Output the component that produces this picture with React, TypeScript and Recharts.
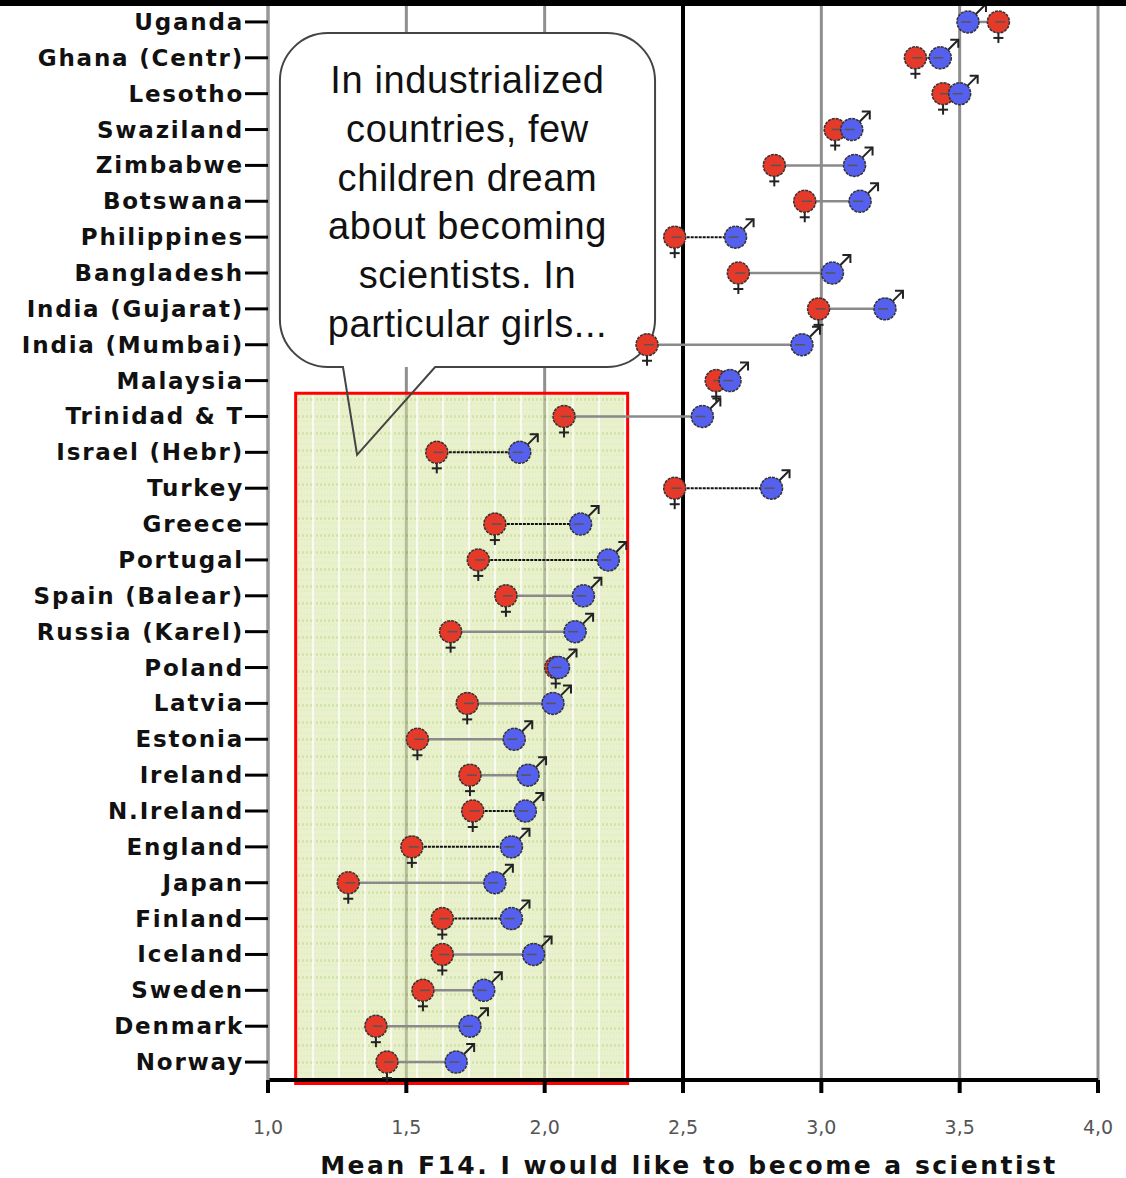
import {
  CartesianGrid,
  ReferenceArea,
  ReferenceLine,
  Scatter,
  ScatterChart,
  XAxis,
  YAxis,
} from 'recharts';

const countries = [
  'Uganda', 'Ghana (Centr)', 'Lesotho', 'Swaziland', 'Zimbabwe', 'Botswana',
  'Philippines', 'Bangladesh', 'India (Gujarat)', 'India (Mumbai)', 'Malaysia',
  'Trinidad & T', 'Israel (Hebr)', 'Turkey', 'Greece', 'Portugal',
  'Spain (Balear)', 'Russia (Karel)', 'Poland', 'Latvia', 'Estonia', 'Ireland',
  'N.Ireland', 'England', 'Japan', 'Finland', 'Iceland', 'Sweden', 'Denmark',
  'Norway',
];

// mean score, girls
const female = [
  3.64, 3.34, 3.44, 3.05, 2.83, 2.94, 2.47, 2.70, 2.99, 2.37, 2.62, 2.07, 1.61,
  2.47, 1.82, 1.76, 1.86, 1.66, 2.04, 1.72, 1.54, 1.73, 1.74, 1.52, 1.29, 1.63,
  1.63, 1.56, 1.39, 1.43,
];

// mean score, boys
const male = [
  3.53, 3.43, 3.50, 3.11, 3.12, 3.14, 2.69, 3.04, 3.23, 2.93, 2.67, 2.57, 1.91,
  2.82, 2.13, 2.23, 2.14, 2.11, 2.05, 2.03, 1.89, 1.94, 1.93, 1.88, 1.82, 1.88,
  1.96, 1.78, 1.73, 1.68,
];

// gap drawn as dark dotted line
const significant = [
  false, true, true, true, false, false, true, false, false, false, false, false,
  true, true, true, true, false, false, false, false, false, false, true, true,
  false, true, false, false, false, false,
];

const xTicks = [1, 1.5, 2, 2.5, 3, 3.5, 4];

const calloutLines = [
  'In industrialized',
  'countries, few',
  'children dream',
  'about becoming',
  'scientists. In',
  'particular girls...',
];

// callout box + tail tip, in data units
const bubbleX: [number, number] = [1.043, 2.399];
const bubbleY: [number, number] = [0.31, 9.62];
const tail = { left: 1.271, right: 1.604, tipX: 1.322, tipY: 12.07 };

const highlightX: [number, number] = [1.1, 2.3];
const highlightY: [number, number] = [10.35, 29.6];

const femaleData = countries.map((c, i) => ({ country: c, y: i, x: female[i] }));
const maleData = countries.map((c, i) => ({ country: c, y: i, x: male[i] }));

const RED = '#e5392a';
const BLUE = '#5560ef';

function FemaleDot(props: any) {
  const { cx, cy } = props;
  return (
    <g>
      <line x1={cx} y1={cy + 10} x2={cx} y2={cy + 21} stroke="#222" strokeWidth={2} />
      <line x1={cx - 5} y1={cy + 16} x2={cx + 5} y2={cy + 16} stroke="#222" strokeWidth={2} />
      <circle cx={cx} cy={cy} r={11} fill={RED} stroke="#333" strokeWidth={1.5} strokeDasharray="3 1" />
      <line x1={cx - 3} y1={cy} x2={cx + 7} y2={cy} stroke="#555" strokeWidth={1.5} />
    </g>
  );
}

function MaleDot(props: any) {
  const { cx, cy } = props;
  return (
    <g>
      <line x1={cx + 7} y1={cy - 7} x2={cx + 18} y2={cy - 18} stroke="#222" strokeWidth={2} />
      <polyline
        points={`${cx + 10},${cy - 18} ${cx + 18},${cy - 18} ${cx + 18},${cy - 10}`}
        fill="none"
        stroke="#222"
        strokeWidth={2}
      />
      <circle cx={cx} cy={cy} r={11} fill={BLUE} stroke="#333" strokeWidth={1.5} strokeDasharray="3 1" />
      <line x1={cx - 7} y1={cy} x2={cx + 3} y2={cy} stroke="#555" strokeWidth={1.5} />
    </g>
  );
}

function CountryTick(props: any) {
  const { x, y, payload } = props;
  return (
    <text
      x={x + 1}
      y={y}
      textAnchor="end"
      dominantBaseline="central"
      fontFamily="DejaVu Sans"
      fontWeight="bold"
      fontSize={23}
      letterSpacing={1.8}
      fill="#111"
    >
      {countries[payload.value]}
    </text>
  );
}

function AxisTitle(props: any) {
  const { viewBox } = props;
  if (!viewBox) return null;
  const { x, y, width, height } = viewBox;
  return (
    <text
      x={x + width / 2 + 6}
      y={y + height - 13}
      textAnchor="middle"
      dominantBaseline="central"
      fontFamily="DejaVu Sans"
      fontWeight="bold"
      fontSize={25}
      letterSpacing={2.5}
      fill="#111"
    >
      Mean F14. I would like to become a scientist
    </text>
  );
}

function Bubble(props: any) {
  const { x, y, width, height } = props;
  const sx = width / (bubbleX[1] - bubbleX[0]);
  const sy = height / (bubbleY[1] - bubbleY[0]);
  const r = 48;
  const l = x;
  const t = y;
  const rt = x + width;
  const b = y + height;
  const bl = x + (tail.left - bubbleX[0]) * sx;
  const br = x + (tail.right - bubbleX[0]) * sx;
  const tx = x + (tail.tipX - bubbleX[0]) * sx;
  const ty = y + (tail.tipY - bubbleY[0]) * sy;
  const d = [
    `M ${bl} ${b}`,
    `L ${l + r} ${b}`,
    `A ${r} ${r} 0 0 1 ${l} ${b - r}`,
    `L ${l} ${t + r}`,
    `A ${r} ${r} 0 0 1 ${l + r} ${t}`,
    `L ${rt - r} ${t}`,
    `A ${r} ${r} 0 0 1 ${rt} ${t + r}`,
    `L ${rt} ${b - r}`,
    `A ${r} ${r} 0 0 1 ${rt - r} ${b}`,
    `L ${br} ${b}`,
    `L ${tx} ${ty}`,
    'Z',
  ].join(' ');
  return (
    <g>
      <rect x={l} y={t} width={width} height={height} rx={r} fill="#fff" />
      <path d={d} fill="none" stroke="#444" strokeWidth={2} />
      {calloutLines.map((line, i) => (
        <text
          key={line}
          x={x + width / 2}
          y={t + 60 + i * 48.8}
          textAnchor="middle"
          fontFamily="Liberation Sans"
          fontSize={38}
          letterSpacing={0.6}
          fill="#111"
        >
          {line}
        </text>
      ))}
    </g>
  );
}

export default function App() {
  return (
    <div style={{ position: 'absolute', left: 0, top: 0, width: 1126, height: 1178, background: '#fff' }}>
      <ScatterChart width={1126} height={1178} margin={{ top: 4, right: 28, bottom: 0, left: 0 }}>
        <defs>
          <pattern id="greenTex" width="26" height="17" patternUnits="userSpaceOnUse">
            <rect width="26" height="17" fill="#d5e4a2" />
            <path d="M0 8.5 H26" stroke="#a9cc5e" strokeWidth="2.5" strokeDasharray="2 2" />
            <path d="M0 2 H26 M0 13 H26" stroke="#bfd888" strokeWidth="1.5" strokeDasharray="1 2" />
            <path d="M1 0 V17" stroke="#ffffff" strokeWidth="1.5" />
          </pattern>
        </defs>
        <CartesianGrid horizontal={false} stroke="#8f8f8f" strokeWidth={3} />
        <XAxis
          type="number"
          dataKey="x"
          domain={[1, 4]}
          ticks={xTicks}
          allowDecimals
          height={98}
          tickSize={13}
          tickMargin={28}
          tickFormatter={(v: number) => v.toFixed(1).replace('.', ',')}
          tick={{ fill: '#555', fontSize: 19, fontFamily: 'DejaVu Sans' }}
          axisLine={{ stroke: '#000', strokeWidth: 4 }}
          tickLine={{ stroke: '#000', strokeWidth: 4 }}
          label={<AxisTitle />}
        />
        <YAxis
          type="number"
          dataKey="y"
          domain={[-0.5, 29.5]}
          reversed
          ticks={countries.map((_, i) => i)}
          interval={0}
          width={268}
          tickSize={23}
          tickMargin={2}
          tick={<CountryTick />}
          axisLine={{ stroke: '#999', strokeWidth: 3 }}
          tickLine={{ stroke: '#000', strokeWidth: 3 }}
        />
        <ReferenceArea
          x1={highlightX[0]}
          x2={highlightX[1]}
          y1={highlightY[0]}
          y2={highlightY[1]}
          ifOverflow="visible"
          fill="url(#greenTex)"
          fillOpacity={0.55}
          stroke="#ff0000"
          strokeWidth={3}
        />
        <ReferenceLine x={2.5} stroke="#000" strokeWidth={4} />
        <ReferenceArea
          x1={bubbleX[0]}
          x2={bubbleX[1]}
          y1={bubbleY[0]}
          y2={bubbleY[1]}
          shape={<Bubble />}
        />
        {countries.map((c, i) => (
          <ReferenceLine
            key={c}
            segment={[
              { x: female[i], y: i },
              { x: male[i], y: i },
            ]}
            stroke={significant[i] ? '#111' : '#8a8a8a'}
            strokeWidth={significant[i] ? 2 : 2.5}
            strokeDasharray={significant[i] ? '3 1' : undefined}
          />
        ))}
        <Scatter data={femaleData} shape={<FemaleDot />} isAnimationActive={false} />
        <Scatter data={maleData} shape={<MaleDot />} isAnimationActive={false} />
      </ScatterChart>
      <div style={{ position: 'absolute', left: 0, top: 0, width: 1126, height: 6, background: '#000' }} />
    </div>
  );
}
